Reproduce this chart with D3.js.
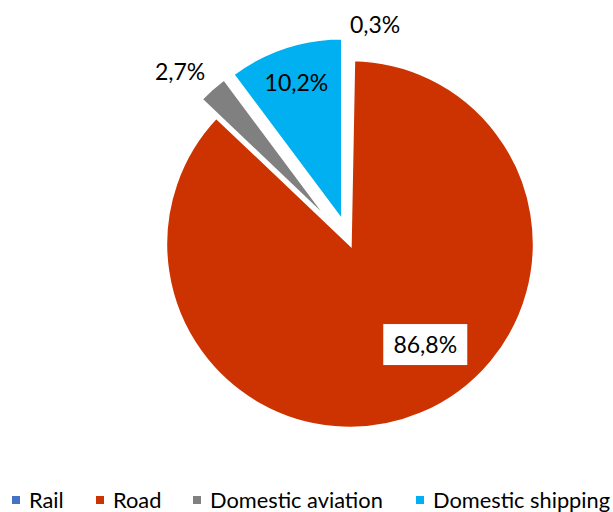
<!DOCTYPE html>
<html>
<head>
<meta charset="utf-8">
<script src="https://cdn.jsdelivr.net/npm/d3@7"></script>
<style>
  html, body { margin: 0; padding: 0; background: #fff; }
  svg { display: block; font-family: Lato, "Open Sans", sans-serif; }
</style>
</head>
<body>
<svg id="chart" width="613" height="512"></svg>
<script>
// Share of domestic transport emissions by mode
const categories = ["Rail", "Road", "Domestic aviation", "Domestic shipping"];
const shares = [0.3, 86.8, 2.7, 10.2];
const valueLabels = ["0,3%", "86,8%", "2,7%", "10,2%"];
const colors = ["#4472C4", "#CC3300", "#808080", "#00B0F0"];
// how far each slice is pulled out from the centre (px)
const explode = [23, 0, 23.5, 23];

const svg = d3.select("#chart");
const cx = 350, cy = 244, R = 184.5;

const pie = d3.pie().sort(null).value(d => d)(shares);
const arc = d3.arc().innerRadius(0).outerRadius(R);

const g = svg.append("g").attr("transform", `translate(${cx},${cy})`);

function offset(d, dist) {
  const a = (d.startAngle + d.endAngle) / 2;
  return [Math.sin(a) * dist, -Math.cos(a) * dist];
}

g.selectAll("path.slice")
  .data(pie)
  .join("path")
  .attr("class", "slice")
  .attr("d", arc)
  .attr("fill", (d, i) => colors[i])
  .attr("stroke", "#fff")
  .attr("stroke-width", 3.5)
  .attr("stroke-linejoin", "miter")
  .attr("transform", (d, i) => {
    const [x, y] = offset(d, explode[i]);
    return `translate(${x},${y})`;
  });

// data labels: distance from centre and angular nudge (degrees) from the slice middle
const labelDist = [220, 126, 242, 170];
const labelTurn = [6, -14, -3, 0];
const labelBoxed = [false, true, false, false];

const labels = g.selectAll("g.lab")
  .data(pie)
  .join("g")
  .attr("class", "lab")
  .attr("transform", (d, i) => {
    const a = (d.startAngle + d.endAngle) / 2 + labelTurn[i] * Math.PI / 180;
    return `translate(${Math.sin(a) * labelDist[i]},${-Math.cos(a) * labelDist[i]})`;
  });

labels.each(function (d, i) {
  const sel = d3.select(this);
  if (labelBoxed[i]) {
    sel.append("rect")
      .attr("x", -42).attr("y", -21)
      .attr("width", 84).attr("height", 41)
      .attr("fill", "#fff");
  }
  sel.append("text")
    .attr("text-anchor", "middle")
    .attr("dy", "0.35em")
    .attr("font-size", 23)
    .attr("fill", "#000")
    .text(valueLabels[i]);
});

// legend along the bottom
const legendX = [12, 96, 193, 416];
const legend = svg.append("g").attr("transform", "translate(0,500)");
const items = legend.selectAll("g")
  .data(categories)
  .join("g")
  .attr("transform", (d, i) => `translate(${legendX[i]},0)`);
items.append("rect")
  .attr("x", 0).attr("y", -4)
  .attr("width", 8).attr("height", 8)
  .attr("fill", (d, i) => colors[i]);
items.append("text")
  .attr("x", 17)
  .attr("dy", "0.35em")
  .attr("font-size", 21.8)
  .attr("fill", "#000")
  .text(d => d);
</script>
</body>
</html>
